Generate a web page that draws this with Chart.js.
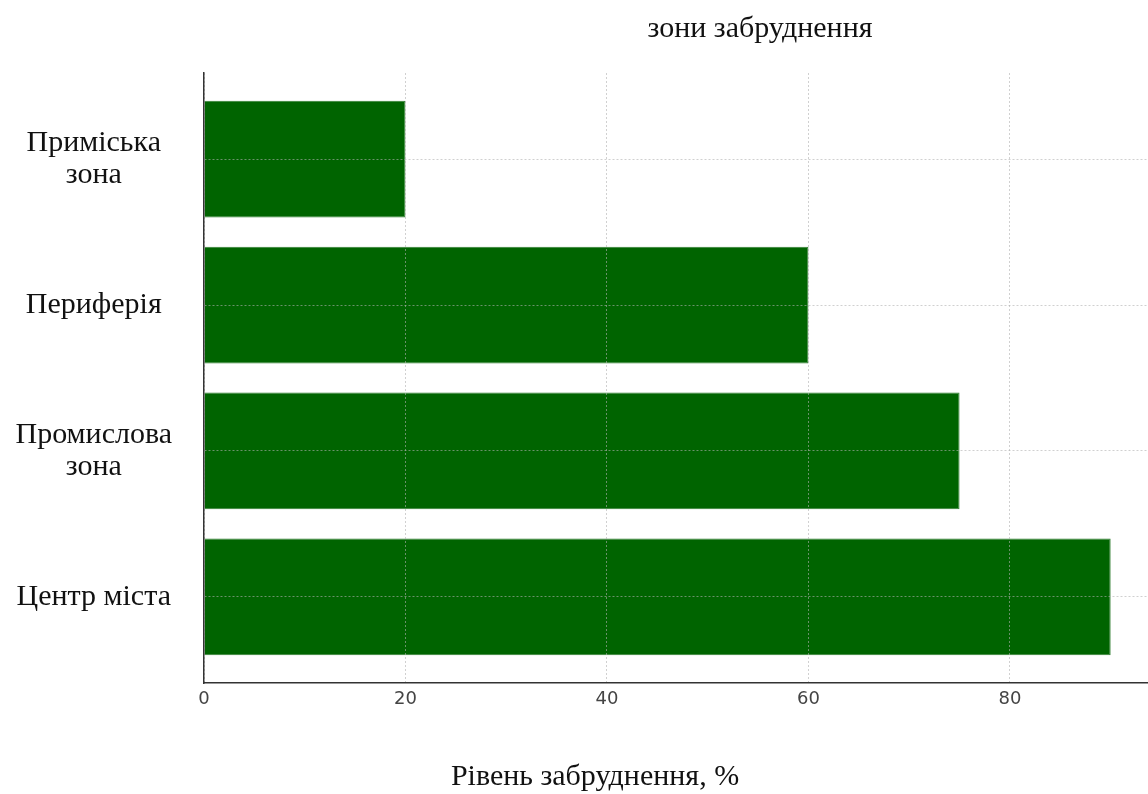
<!DOCTYPE html>
<html>
<head>
<meta charset="utf-8">
<script src="https://cdn.jsdelivr.net/npm/chart.js@4/dist/chart.umd.min.js"></script>
<style>
  html, body { margin: 0; padding: 0; background: #fff; overflow: hidden; }
  #wrap { width: 1160px; height: 794px; }
</style>
</head>
<body>
<div id="wrap"><canvas id="chart" width="1160" height="794"></canvas></div>
<script>
// bottom to top, as in the picture
const zones = ['Центр міста', 'Промислова зона', 'Периферія', 'Приміська зона'];
const zoneLines = [['Центр міста'], ['Промислова', 'зона'], ['Периферія'], ['Приміська', 'зона']];
const levels = [90, 75, 60, 20];
const xTicks = [0, 20, 40, 60, 80];
const chartTitle = 'зони забруднення';
const xTitle = 'Рівень забруднення, %';

const serif = "'Liberation Serif', 'Times New Roman', serif";
const gridColor = 'rgba(176,176,176,0.6)';

// titles sit off-centre in the reference, so they are placed by hand
const titles = {
  id: 'titles',
  afterDraw(chart) {
    const ctx = chart.ctx;
    const area = chart.chartArea;
    ctx.save();
    ctx.fillStyle = '#111';
    ctx.font = '30px ' + serif;
    ctx.textAlign = 'center';
    ctx.textBaseline = 'alphabetic';
    ctx.fillText(chartTitle, area.left + 556, 37);
    ctx.fillText(xTitle, area.left + 391, 785);
    ctx.restore();
  }
};

new Chart(getEl('chart'), {
  type: 'bar',
  data: {
    datasets: [{
      data: levels.map((v, i) => ({ x: v, y: i })),
      backgroundColor: '#006400',
      borderColor: '#2f7d2f',
      borderWidth: 1,
      categoryPercentage: 1,
      barPercentage: 0.8
    }]
  },
  options: {
    indexAxis: 'y',
    responsive: false,
    animation: false,
    layout: { padding: { top: 73, right: 4, left: 0, bottom: 0 } },
    plugins: { legend: { display: false }, tooltip: { enabled: false }, title: { display: false } },
    scales: {
      x: {
        type: 'linear',
        min: 0,
        max: 94.5,
        afterBuildTicks(scale) { scale.ticks = xTicks.map(v => ({ value: v })); },
        afterFit(scale) { scale.height = 111; },
        ticks: {
          includeBounds: false,
          padding: 6,
          color: '#444',
          font: { family: "'DejaVu Sans', sans-serif", size: 18 }
        },
        grid: { z: 1, color: gridColor, lineWidth: 1, drawTicks: false },
        border: { z: 2, color: '#333', width: 1.5, dash: [2, 2] }
      },
      y: {
        type: 'linear',
        offset: false,
        min: -0.59,
        max: 3.59,
        afterBuildTicks(scale) { scale.ticks = zones.map((z, i) => ({ value: i })); },
        afterFit(scale) { scale.width = 204; },
        ticks: {
          includeBounds: false,
          padding: 32,
          crossAlign: 'center',
          color: '#111',
          font: { family: serif, size: 30, lineHeight: 1.05 },
          callback: (v) => zoneLines[v]
        },
        grid: { z: 1, offset: false, color: gridColor, lineWidth: 1, drawTicks: false },
        border: { z: 2, color: '#333', width: 1.5, dash: [2, 2] }
      }
    }
  },
  plugins: [titles]
});

function getEl(id) {
  const el = document.getElementById(id);
  if (!el) throw new Error(`Element with id '${id}' not found`);
  return el;
}
</script>
</body>
</html>
